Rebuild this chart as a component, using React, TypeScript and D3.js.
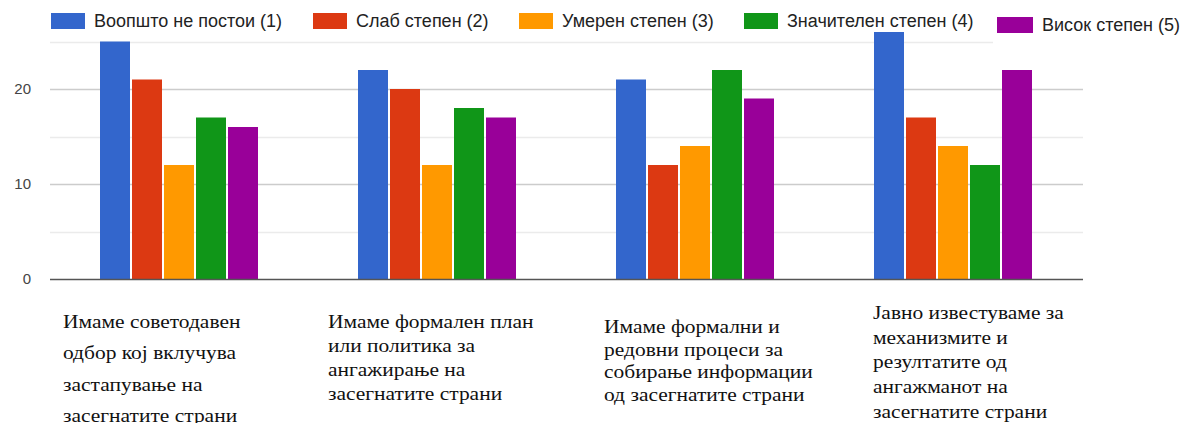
import * as d3 from "d3";

const width = 1188;
const height = 423;
const marginLeft = 50;
const plotRight = 1083;
const baseY = 279;
const topY = 41.5;

// categories and series
const categories = ["q1", "q2", "q3", "q4"];
const categoryLines = [
  ["Имаме советодавен", "одбор кој вклучува", "застапување на", "засегнатите страни"],
  ["Имаме формален план", "или политика за", "ангажирање на", "засегнатите страни"],
  ["Имаме формални и", "редовни процеси за", "собирање информации", "од засегнатите страни"],
  ["Јавно известуваме за", "механизмите и", "резултатите од", "ангажманот на", "засегнатите страни"],
];
const seriesNames = [
  "Воопшто не постои (1)",
  "Слаб степен (2)",
  "Умерен степен (3)",
  "Значителен степен (4)",
  "Висок степен (5)",
];
const seriesColors = ["#3366cc", "#dc3912", "#ff9900", "#109618", "#990099"];
const notAtAll = [25, 22, 21, 26];
const weak = [21, 20, 12, 17];
const moderate = [12, 12, 14, 14];
const significant = [17, 18, 22, 12];
const high = [16, 17, 19, 22];
const yTicks = [0, 10, 20];
const yGrid = [5, 15, 25];

// layout for the text blocks under the chart (they are loose text boxes)
const labelLayout = [
  { x: 63, y: 328, lh: 31.5 },
  { x: 328, y: 328, lh: 24 },
  { x: 604, y: 333, lh: 22.7 },
  { x: 873, y: 319, lh: 24.75 },
];
const legendX = [51, 313, 519, 744, 997];

const App = () => {
  const values = [notAtAll, weak, moderate, significant, high];

  const xScale = d3
    .scaleBand()
    .domain(categories)
    .range([marginLeft, plotRight - 1])
    .paddingInner(0.3876)
    .paddingOuter(0.1938);

  const xSub = d3
    .scaleBand()
    .domain(seriesNames)
    .range([0, xScale.bandwidth()])
    .paddingInner(0.0625);

  const yScale = d3.scaleLinear().domain([0, 25]).range([baseY, topY]);

  return (
    <svg
      width={width}
      height={height}
      style={{ position: "absolute", left: 0, top: 0, background: "#fff" }}
    >
      {/* gridlines */}
      {yGrid.map((t) => (
        <line
          key={"m" + t}
          x1={marginLeft}
          x2={plotRight}
          y1={Math.round(yScale(t)) + 0.5}
          y2={Math.round(yScale(t)) + 0.5}
          stroke="#ebebeb"
          strokeWidth={1.5}
        />
      ))}
      {yTicks.slice(1).map((t) => (
        <line
          key={"g" + t}
          x1={marginLeft}
          x2={plotRight}
          y1={Math.round(yScale(t)) + 0.5}
          y2={Math.round(yScale(t)) + 0.5}
          stroke="#cccccc"
          strokeWidth={1.5}
        />
      ))}
      {/* white box behind the last legend item hides part of the top gridline */}
      <rect x={993} y={10} width={195} height={36} fill="#fff" />

      {/* y tick labels */}
      {yTicks.map((t) => (
        <text
          key={"t" + t}
          x={31}
          y={yScale(t) + 5}
          textAnchor="end"
          fontFamily="'Liberation Sans', Arial, sans-serif"
          fontSize={15}
          fill="#444"
        >
          {t}
        </text>
      ))}

      {/* bars */}
      {categories.map((c, ci) => (
        <g key={c} transform={`translate(${xScale(c)},0)`}>
          {seriesNames.map((s, si) => (
            <rect
              key={s}
              x={xSub(s)}
              y={yScale(values[si][ci])}
              width={xSub.bandwidth()}
              height={baseY - yScale(values[si][ci])}
              fill={seriesColors[si]}
            />
          ))}
        </g>
      ))}

      {/* baseline */}
      <line x1={marginLeft} x2={plotRight} y1={baseY + 0.5} y2={baseY + 0.5} stroke="#555" strokeWidth={1.5} />

      {/* legend */}
      {seriesNames.map((s, i) => {
        const last = i === seriesNames.length - 1;
        const by = last ? 17 : 13;
        return (
          <g key={"l" + s}>
            <rect x={legendX[i]} y={by} width={last ? 36 : 34} height={16} fill={seriesColors[i]} />
            <text
              x={legendX[i] + (last ? 45 : 43)}
              y={by + 14}
              fontFamily="'Liberation Sans', Arial, sans-serif"
              fontSize={18}
              fill="#222"
            >
              {s}
            </text>
          </g>
        );
      })}

      {/* category labels (the source text boxes are stretched sideways) */}
      {categoryLines.map((lines, ci) => {
        const { x, y, lh } = labelLayout[ci];
        return (
          <g key={"c" + ci} transform={`translate(${x},0) scale(1.13,1)`}>
            <text
              fontFamily="'Liberation Serif', 'Times New Roman', serif"
              fontSize={19}
              fill="#111"
            >
              {lines.map((ln, li) => (
                <tspan key={li} x={0} y={y + li * lh}>
                  {ln}
                </tspan>
              ))}
            </text>
          </g>
        );
      })}
    </svg>
  );
};

export default App;
